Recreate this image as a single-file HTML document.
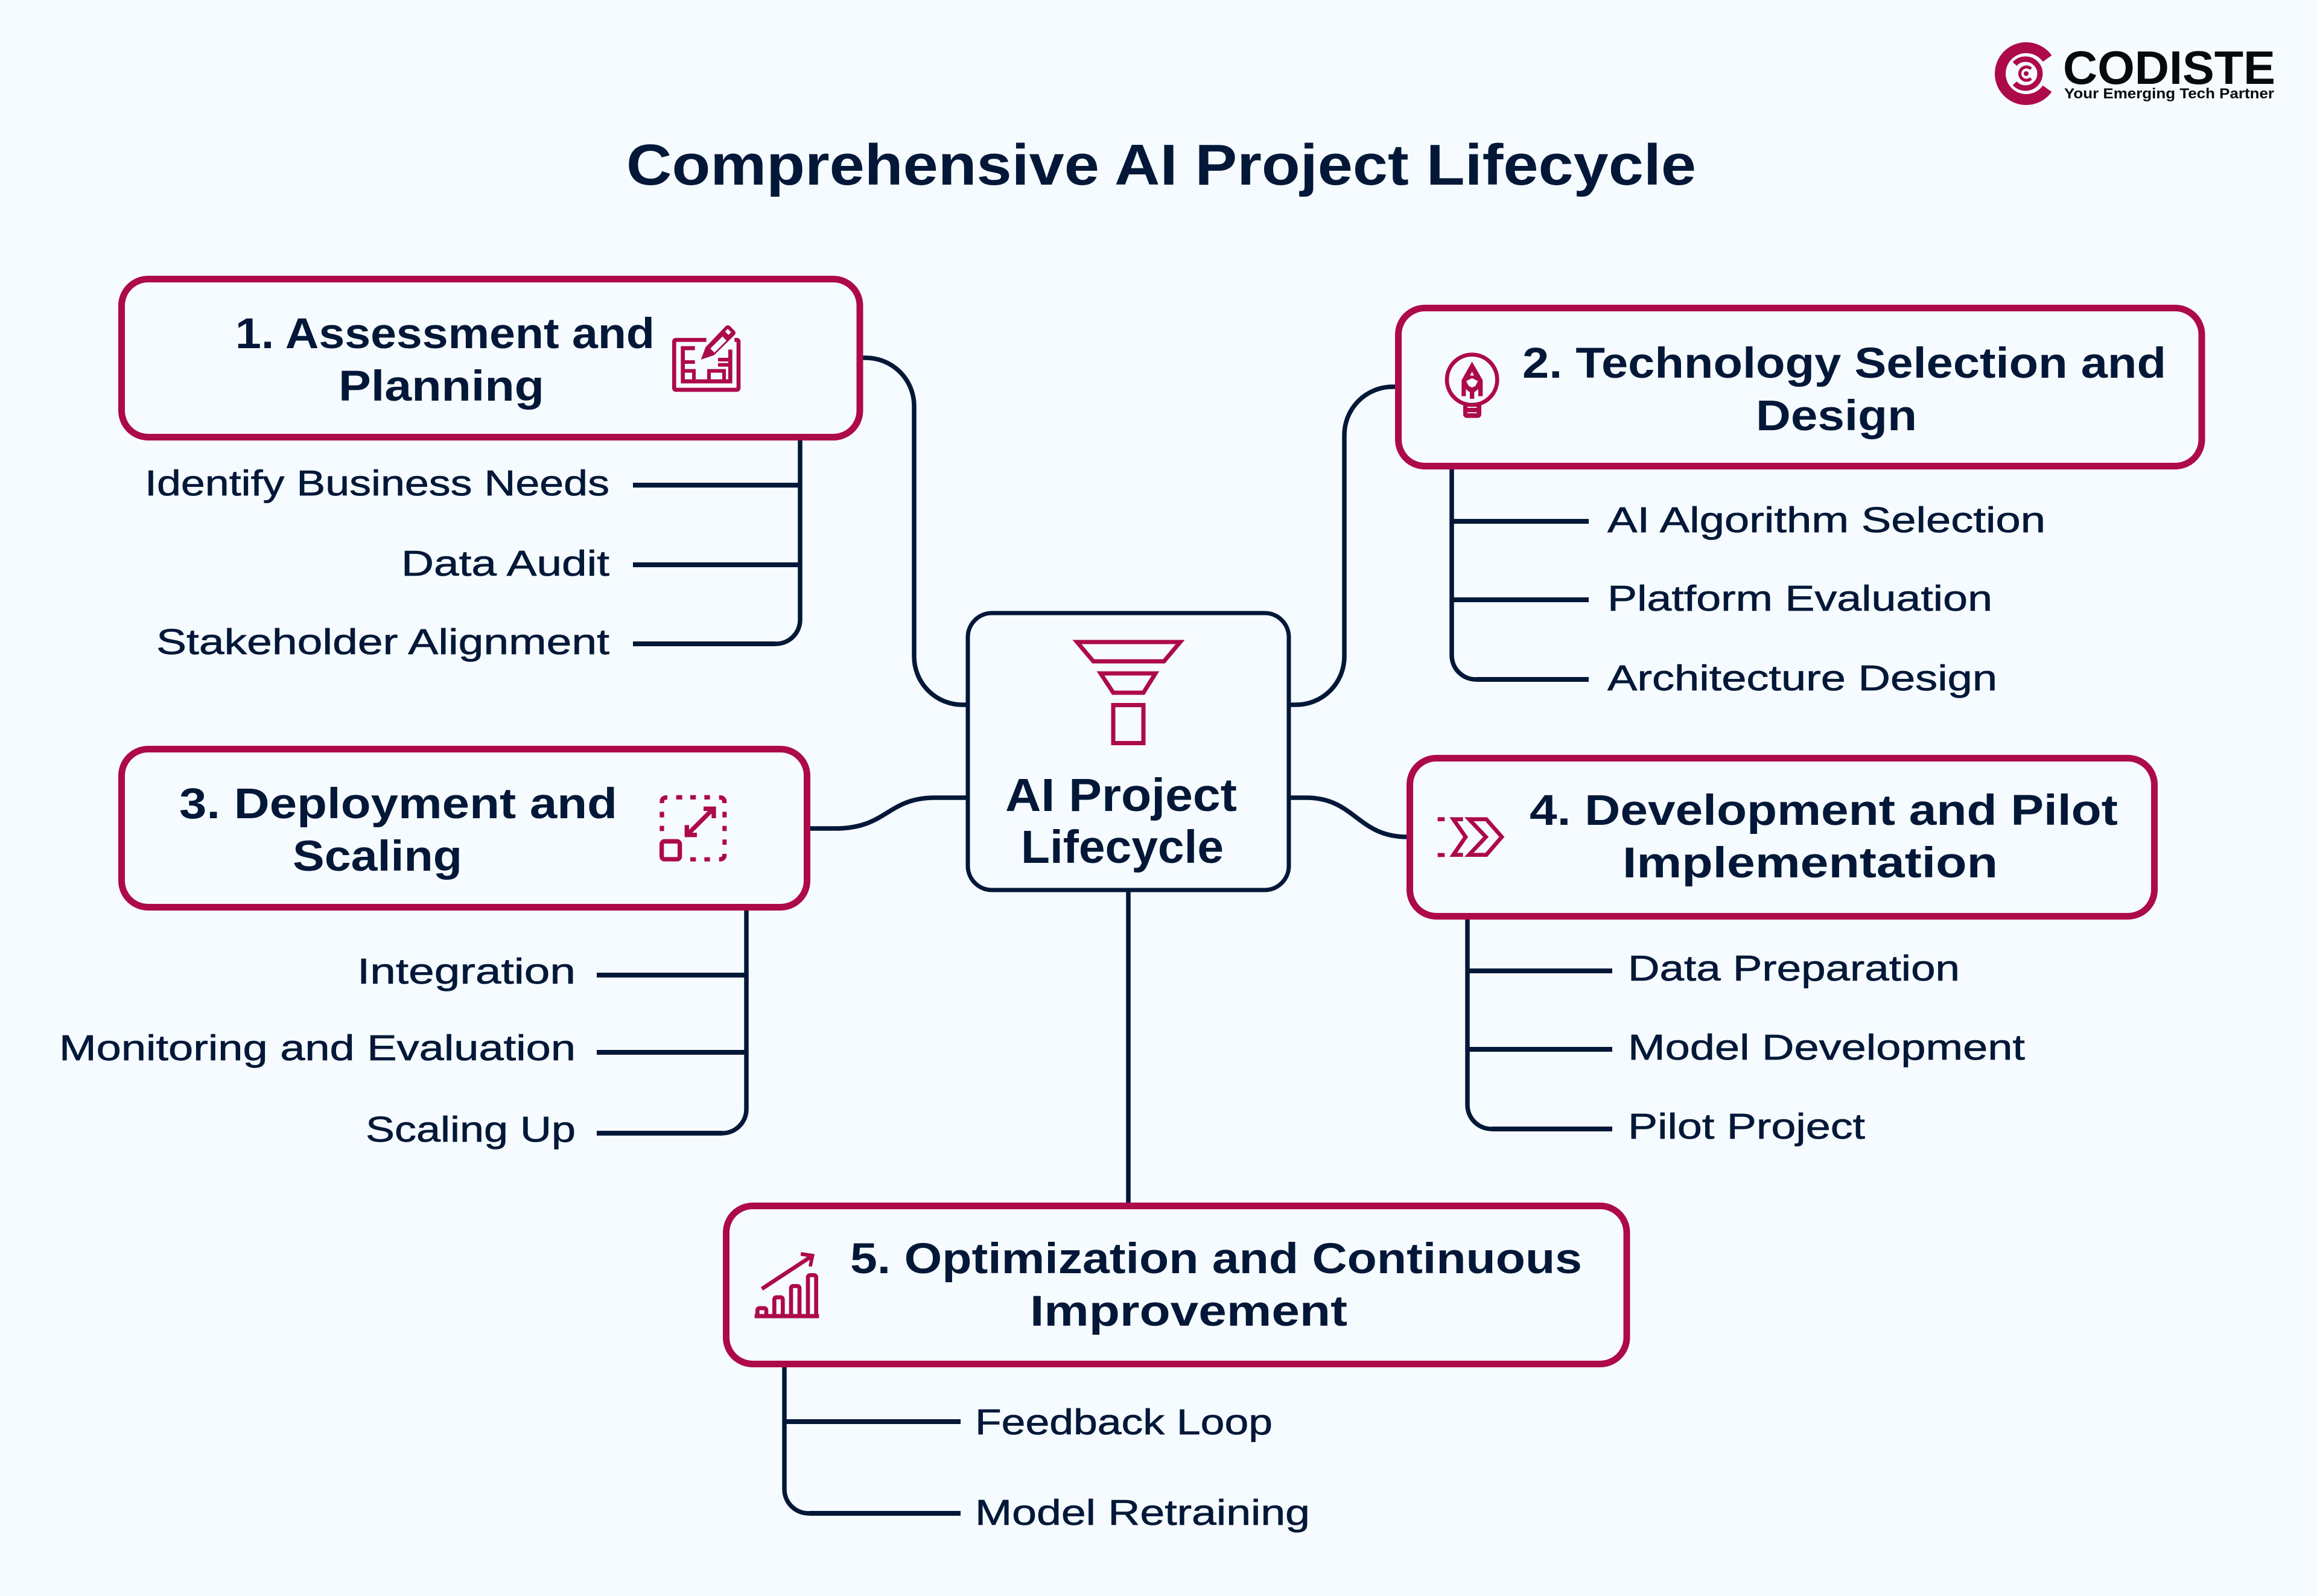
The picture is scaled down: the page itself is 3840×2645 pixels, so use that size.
<!DOCTYPE html>
<html><head><meta charset="utf-8"><title>Comprehensive AI Project Lifecycle</title>
<style>
html,body{margin:0;padding:0;background:#f6fbff}
svg{display:block}
text{font-family:"Liberation Sans",sans-serif;fill:#031838}
.t{font-size:71px;font-weight:700}
.s{font-size:59px;stroke:#031838;stroke-width:.7px}
.c{fill:none;stroke:#031838;stroke-width:7.5}
.h{fill:none;stroke:#031838;stroke-width:8}
.b{fill:#f6fbff;stroke:#ad0a4a;stroke-width:11}
</style></head><body>
<svg xmlns="http://www.w3.org/2000/svg" width="3840" height="2645" viewBox="0 0 3840 2645">
<rect width="3840" height="2645" fill="#f6fbff"/>

<text x="1038" y="306" font-size="96" font-weight="700" textLength="1773" lengthAdjust="spacingAndGlyphs">Comprehensive AI Project Lifecycle</text>

<!-- connectors -->
<path class="c" d="M1430 593H1435a80 80 0 0 1 80 80V1088a80 80 0 0 0 80 80H1602"/>
<path class="c" d="M2312 641H2308a80 80 0 0 0-80 80V1088a80 80 0 0 1-80 80H2138"/>
<path class="c" d="M1342 1373H1385C1470 1373 1470 1322 1550 1322H1602"/>
<path class="c" d="M2138 1322H2165C2245 1322 2250 1387 2332 1387"/>
<path class="c" d="M1870 1478V1996"/>

<path class="c" d="M1326 727V1027a40 40 0 0 1-40 40H1200"/>
<path class="h" d="M1049 804H1326M1049 936H1326M1049 1067H1285"/>
<path class="c" d="M2406 777V1086a40 40 0 0 0 40 40H2500"/>
<path class="h" d="M2406 864H2633M2406 994H2633M2447 1126H2633"/>
<path class="c" d="M1237 1506V1838a40 40 0 0 1-40 40H1120"/>
<path class="h" d="M989 1616H1237M989 1744H1237M989 1878H1197"/>
<path class="c" d="M2432 1523V1831a40 40 0 0 0 40 40H2520"/>
<path class="h" d="M2432 1609H2672M2432 1739H2672M2473 1871H2672"/>
<path class="c" d="M1300 2265V2468a40 40 0 0 0 40 40H1400"/>
<path class="h" d="M1300 2356H1592M1341 2508H1592"/>

<!-- boxes -->
<rect class="b" x="201.5" y="462.5" width="1223.5" height="262" rx="44"/>
<rect class="b" x="2317.5" y="510.5" width="1331.5" height="262" rx="44"/>
<rect class="b" x="201.5" y="1241.5" width="1136" height="262" rx="44"/>
<rect class="b" x="2336.5" y="1256.5" width="1234" height="262" rx="44"/>
<rect class="b" x="1203.5" y="1998.5" width="1492.5" height="262" rx="44"/>
<rect x="1604" y="1016" width="532" height="459" rx="40" fill="#f6fbff" stroke="#031838" stroke-width="7"/>

<!-- funnel -->
<g fill="none" stroke="#ad0a4a" stroke-width="7">
<path d="M1785 1064H1956L1929 1096H1812Z"/>
<path d="M1824 1116H1915L1895 1148H1845Z"/>
<rect x="1845" y="1168.5" width="50" height="63"/>
</g>

<!-- titles -->
<text class="t" x="390" y="577" textLength="695" lengthAdjust="spacingAndGlyphs">1. Assessment and</text>
<text class="t" x="561" y="664" textLength="341" lengthAdjust="spacingAndGlyphs">Planning</text>
<text class="t" x="2523" y="626" textLength="1067" lengthAdjust="spacingAndGlyphs">2. Technology Selection and</text>
<text class="t" x="2910" y="713" textLength="267" lengthAdjust="spacingAndGlyphs">Design</text>
<text class="t" x="297" y="1356" textLength="726" lengthAdjust="spacingAndGlyphs">3. Deployment and</text>
<text class="t" x="485" y="1443" textLength="281" lengthAdjust="spacingAndGlyphs">Scaling</text>
<text class="t" x="2535" y="1367" textLength="975" lengthAdjust="spacingAndGlyphs">4. Development and Pilot</text>
<text class="t" x="2689" y="1454" textLength="622" lengthAdjust="spacingAndGlyphs">Implementation</text>
<text class="t" x="1409" y="2110" textLength="1213" lengthAdjust="spacingAndGlyphs">5. Optimization and Continuous</text>
<text class="t" x="1707" y="2197" textLength="526" lengthAdjust="spacingAndGlyphs">Improvement</text>
<text x="1666" y="1344" font-size="77" font-weight="700" textLength="384" lengthAdjust="spacingAndGlyphs">AI Project</text>
<text x="1692" y="1430" font-size="77" font-weight="700" textLength="336" lengthAdjust="spacingAndGlyphs">Lifecycle</text>

<!-- sub labels -->
<text class="s" x="240" y="821" textLength="770" lengthAdjust="spacingAndGlyphs">Identify Business Needs</text>
<text class="s" x="665" y="954" textLength="345" lengthAdjust="spacingAndGlyphs">Data Audit</text>
<text class="s" x="259" y="1084" textLength="751" lengthAdjust="spacingAndGlyphs">Stakeholder Alignment</text>
<text class="s" x="2664" y="882" textLength="726" lengthAdjust="spacingAndGlyphs">AI Algorithm Selection</text>
<text class="s" x="2664" y="1012" textLength="638" lengthAdjust="spacingAndGlyphs">Platform Evaluation</text>
<text class="s" x="2664" y="1144" textLength="646" lengthAdjust="spacingAndGlyphs">Architecture Design</text>
<text class="s" x="592" y="1630" textLength="362" lengthAdjust="spacingAndGlyphs">Integration</text>
<text class="s" x="98" y="1757" textLength="856" lengthAdjust="spacingAndGlyphs">Monitoring and Evaluation</text>
<text class="s" x="606" y="1892" textLength="348" lengthAdjust="spacingAndGlyphs">Scaling Up</text>
<text class="s" x="2698" y="1625" textLength="550" lengthAdjust="spacingAndGlyphs">Data Preparation</text>
<text class="s" x="2698" y="1756" textLength="658" lengthAdjust="spacingAndGlyphs">Model Development</text>
<text class="s" x="2698" y="1887" textLength="393" lengthAdjust="spacingAndGlyphs">Pilot Project</text>
<text class="s" x="1616" y="2377" textLength="493" lengthAdjust="spacingAndGlyphs">Feedback Loop</text>
<text class="s" x="1616" y="2527" textLength="555" lengthAdjust="spacingAndGlyphs">Model Retraining</text>

<!-- icon 1 -->
<g transform="translate(1080 510) scale(.3333)" fill="none" stroke="#ad0a4a" stroke-width="20">
<path d="M272 160H120a8 8 0 0 0-8 8V400a8 8 0 0 0 8 8H424a8 8 0 0 0 8-8V168a8 8 0 0 0-8-8H412"/>
<path d="M215 201H155V366H391V208"/>
<path d="M155 270H215M155 314H210V366M285 314H360V366H285ZM330 258H391M330 284H391" stroke-width="18"/>
<path d="M245 258L268 196L368 92Q378 82 390 92L413 115Q422 125 412 136L310 236Z" fill="#ad0a4a" stroke="none"/>
<path d="M292 203L352 143L372 163L312 223Z M365 118L378 105L395 122L382 135Z" fill="#f6fbff" stroke="none"/>
</g>
<!-- icon 2 -->
<g transform="translate(2300 490) scale(.3333)">
<circle cx="419" cy="418" r="125" fill="none" stroke="#ad0a4a" stroke-width="20"/>
<path d="M375 538H465V590a18 18 0 0 1-18 18H393a18 18 0 0 1-18-18Z" fill="#ad0a4a"/>
<path d="M396 555H442M396 582H442" stroke="#f6fbff" stroke-width="5"/>
<path d="M419 328L472 420V500H450V465L430 480V513H408V480L388 465V500H367V420Z" fill="#ad0a4a"/>
<path d="M419 378L429 397H409Z M390 425L419 410L448 425L436 448L419 457L402 448Z" fill="#f6fbff"/>
</g>
<!-- icon 3 -->
<g transform="translate(1040 1270) scale(.3333)" fill="#ad0a4a">
<path d="M171 183V175a20 20 0 0 1 20-20H198M455 155H462a20 20 0 0 1 20 20V183M482 435V442a20 20 0 0 1-20 20H455" fill="none" stroke="#ad0a4a" stroke-width="22"/>
<rect x="242" y="143" width="30" height="22"/><rect x="312" y="143" width="28" height="22"/><rect x="382" y="143" width="28" height="22"/>
<rect x="160" y="226" width="22" height="28"/><rect x="160" y="296" width="22" height="26"/>
<rect x="472" y="226" width="21" height="28"/><rect x="472" y="296" width="21" height="26"/><rect x="472" y="364" width="21" height="26"/>
<rect x="312" y="452" width="28" height="21"/><rect x="382" y="452" width="28" height="21"/>
<rect x="170" y="373" width="90" height="89" rx="14" fill="none" stroke="#ad0a4a" stroke-width="22"/>
<path d="M300 337L425 212" stroke="#ad0a4a" stroke-width="22"/>
<path d="M378 200H440V258H418V222H378Z M284 292H306V330H345V352H284Z"/>
</g>
<!-- icon 4 -->
<g transform="translate(2300 1220) scale(.3333)">
<rect x="248" y="403" width="35" height="20" fill="#ad0a4a"/><rect x="248" y="581" width="35" height="20" fill="#ad0a4a"/>
<path d="M374 413H326L387 501L326 590H374" fill="none" stroke="#ad0a4a" stroke-width="20"/>
<path d="M404 413H490L567 501L490 590H404L488 501Z" fill="none" stroke="#ad0a4a" stroke-width="20"/>
</g>
<!-- icon 5 -->
<g transform="translate(1180 2000) scale(.3333)">
<rect x="212" y="533" width="320" height="21" fill="#ad0a4a"/>
<g fill="none" stroke="#ad0a4a" stroke-width="20">
<path d="M226 540V514a10 10 0 0 1 10-10H260a10 10 0 0 1 10 10V540"/>
<path d="M310 540V460a10 10 0 0 1 10-10H342a10 10 0 0 1 10 10V540"/>
<path d="M393 540V404a10 10 0 0 1 10-10H425a10 10 0 0 1 10 10V540"/>
<path d="M477 540V350a10 10 0 0 1 10-10H508a10 10 0 0 1 10 10V540"/>
<path d="M248 408L495 246"/>
</g>
<path d="M443 225L510 235L497 298L480 295L489 252L440 243Z" fill="#ad0a4a"/>
</g>

<!-- logo -->
<g fill="none" stroke="#ad0a4a">
<path d="M3393 97A43 43 0 1 0 3393 147" stroke-width="18"/>
<path d="M3339 106A24 24 0 1 1 3339 138" stroke-width="9"/>
<path d="M3366 114A11 11 0 1 0 3366 130" stroke-width="5"/>
<circle cx="3358" cy="122" r="4" fill="#ad0a4a" stroke="none"/>
</g>
<text x="3419" y="139" font-size="78" font-weight="700" textLength="352" lengthAdjust="spacingAndGlyphs" style="fill:#08090f">CODISTE</text>
<text x="3421" y="163" font-size="24" font-weight="700" textLength="348" lengthAdjust="spacingAndGlyphs" style="fill:#08090f">Your Emerging Tech Partner</text>
</svg>
</body></html>
